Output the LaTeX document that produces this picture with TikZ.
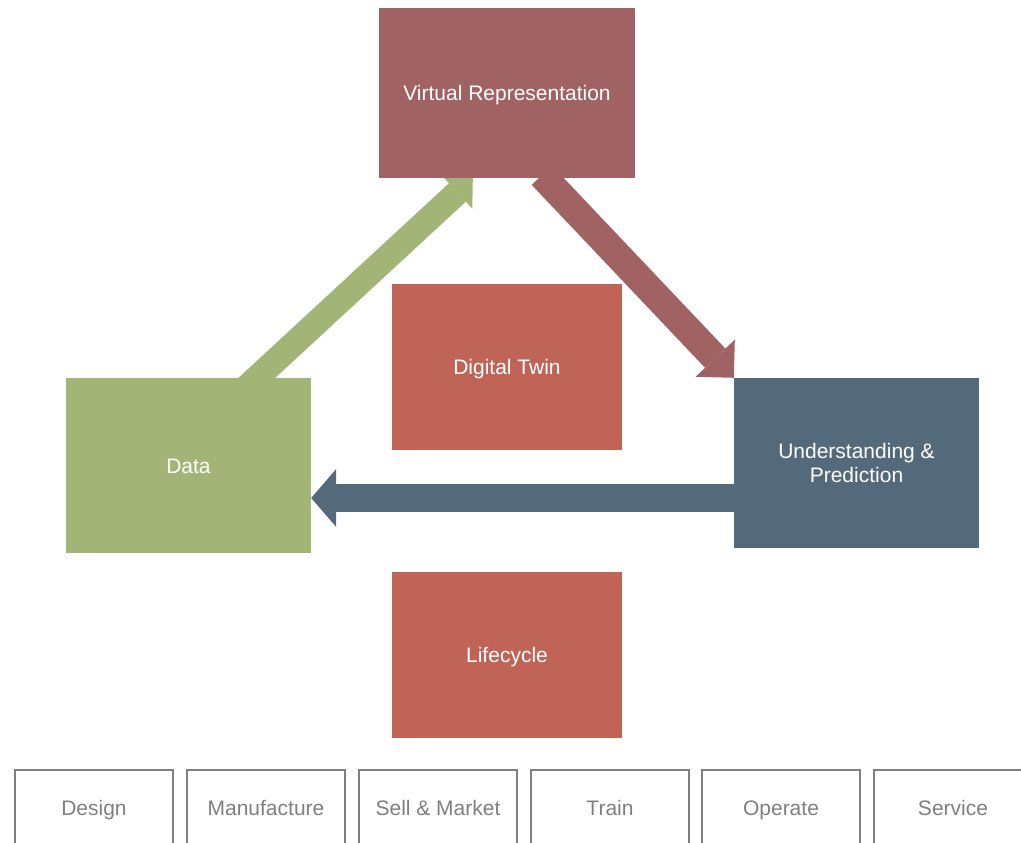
\documentclass[tikz,border=0pt]{standalone}
\usepackage{fontspec}
\setmainfont{Liberation Sans}
\usetikzlibrary{arrows.meta,calc}
\definecolor{vrcol}{RGB}{160,98,98}
\definecolor{twincol}{RGB}{192,100,88}
\definecolor{datacol}{RGB}{163,180,119}
\definecolor{undcol}{RGB}{84,106,123}
\definecolor{graycol}{RGB}{127,127,127}
\pgfdeclarelayer{bg}
\pgfsetlayers{bg,main}
\begin{document}
\begin{tikzpicture}[x=1pt,y=-1pt,
  cbox/.style={text=white, font=\fontsize{21}{24}\selectfont, align=center, inner sep=0pt},
  oneline/.style={text height=19pt, text depth=4pt},
  stagebox/.style={draw=graycol, line width=2pt, text=graycol, font=\fontsize{21}{24}\selectfont,
    minimum width=158pt, minimum height=76pt, inner sep=0pt, oneline}]
\useasboundingbox (0,0) rectangle (1021,843);
\clip (0,0) rectangle (1021,843);

\node[cbox, oneline, fill=vrcol, minimum width=256pt, minimum height=170pt] (vr) at (507,93) {Virtual Representation};
\node[cbox, oneline, fill=twincol, minimum width=230pt, minimum height=166pt] (twin) at (507,367) {Digital Twin};
\node[cbox, oneline, fill=datacol, minimum width=245pt, minimum height=175pt] (data) at (188.5,465.5) {Data};
\node[cbox, fill=undcol, minimum width=245pt, minimum height=170pt] (und) at (856.5,463) {Understanding \&\\Prediction};
\node[cbox, oneline, fill=twincol, minimum width=230pt, minimum height=166pt] (life) at (507,655) {Lifecycle};

\node[stagebox] (s1) at (94,808) {Design};
\node[stagebox] (s2) at (266,808) {Manufacture};
\node[stagebox] (s3) at (438,808) {Sell \& Market};
\node[stagebox] (s4) at (610,808) {Train};
\node[stagebox] (s5) at (781,808) {Operate};
\node[stagebox] (s6) at (953,808) {Service};

\coordinate (gstart) at ($(data.north west)+(176,14)$);
\coordinate (gend) at ($(vr.south west)+(94,0)$);
\coordinate (rstart) at ($(vr.south west)+(163,-3)$);
\coordinate (rend) at (und.north west);
\coordinate (bstart) at ($(und.west)+(2,35)$);

\begin{pgfonlayer}{bg}
\draw[datacol, line width=25pt, -{Triangle[length=21pt,width=44pt,line width=0pt]}] (gstart) -- (gend);
\draw[vrcol, line width=28pt, -{Triangle[length=27pt,width=54pt,line width=0pt]}] (rstart) -- (rend);
\draw[undcol, line width=28pt, -{Triangle[length=25pt,width=58pt,line width=0pt]}] (bstart) -- (bstart -| data.east);
\end{pgfonlayer}
\end{tikzpicture}
\end{document}
